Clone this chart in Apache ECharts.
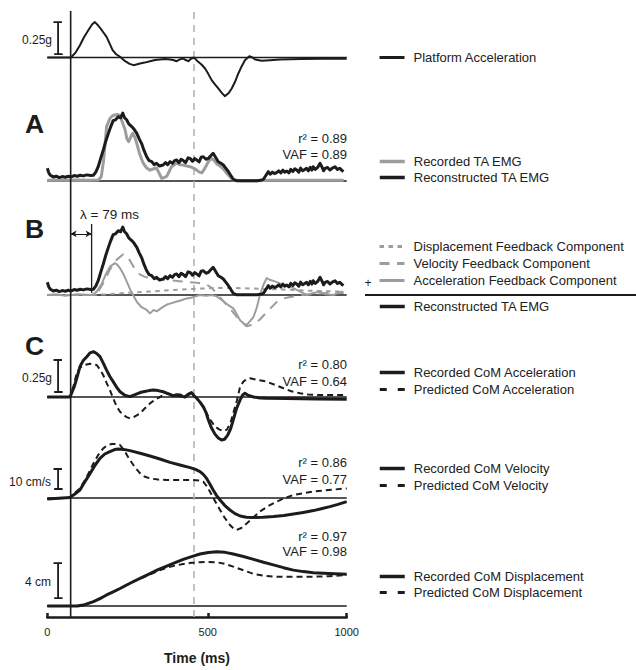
<!DOCTYPE html>
<html>
<head>
<meta charset="utf-8">
<script src="https://cdn.jsdelivr.net/npm/echarts@6/dist/echarts.min.js"></script>
<style>html,body{margin:0;padding:0;background:#fff}#c{width:636px;height:670px}</style>
</head>
<body>
<div id="c"></div>
<script>
// ---------- DATA (time in ms, values in panel units) ----------
const tickPositions = [0, 536, 1000];
const tickLabels = ['0', '500', '1000'];
const onsetTime = 78;
const lambdaTime = 148;
const markerTime = 490;

// Platform acceleration (g)
const platformAcc = [[0,0],[79,0],[95,0.04],[109,0.096],[123,0.16],[137,0.213],[150,0.26],[159,0.276],[170,0.25],[182,0.213],[198,0.161],[208,0.11],[218,0.057],[230,0.025],[243,0.005],[260,-0.029],[275,-0.05],[288,-0.06],[310,-0.047],[325,-0.04],[343,-0.029],[360,-0.02],[376,-0.016],[393,-0.012],[410,-0.016],[420,-0.02],[432,-0.029],[443,-0.015],[454,-0.008],[462,-0.02],[471,-0.029],[480,-0.01],[490,0],[504,-0.034],[515,-0.055],[527,-0.086],[538,-0.13],[549,-0.177],[560,-0.21],[571,-0.242],[582,-0.275],[593,-0.302],[605,-0.28],[616,-0.242],[627,-0.19],[638,-0.125],[649,-0.07],[660,-0.021],[675,0.01],[685,0.0],[694,-0.016],[716,-0.026],[744,-0.021],[777,-0.016],[850,-0.012],[920,-0.01],[1000,-0.01]];

// TA EMG (normalised units)
const emgReconstructed = [[0,0.187],[5,0.12],[10,0.085],[20,0.06],[30,0.07],[40,0.05],[50,0.065],[60,0.055],[70,0.07],[80,0.06],[90,0.08],[100,0.07],[110,0.085],[120,0.075],[132,0.09],[145,0.08],[154,0.085],[162,0.13],[170,0.21],[178,0.33],[187,0.456],[195,0.58],[204,0.70],[212,0.80],[220,0.887],[228,0.9],[237,0.946],[245,0.93],[252,1.0],[258,0.93],[265,0.9],[272,0.84],[282,0.8],[290,0.76],[299,0.70],[307,0.62],[315,0.55],[323,0.45],[332,0.357],[340,0.3],[349,0.284],[357,0.24],[365,0.26],[375,0.22],[387,0.235],[395,0.27],[402,0.24],[410,0.284],[418,0.26],[425,0.3],[432,0.31],[440,0.27],[447,0.32],[454,0.3],[462,0.27],[470,0.34],[477,0.333],[485,0.29],[492,0.33],[499,0.31],[507,0.28],[514,0.35],[521,0.357],[530,0.32],[538,0.333],[546,0.37],[554,0.407],[562,0.35],[571,0.284],[580,0.26],[588,0.235],[596,0.19],[605,0.137],[613,0.08],[621,0.025],[632,0.005],[644,0.005],[660,0.005],[675,0.005],[688,0.005],[700,0.005],[712,0.01],[722,0.025],[730,0.08],[738,0.137],[745,0.1],[752,0.13],[759,0.11],[766,0.122],[773,0.15],[780,0.12],[787,0.16],[793,0.13],[800,0.147],[807,0.12],[813,0.17],[820,0.14],[827,0.18],[833,0.162],[840,0.13],[846,0.19],[853,0.15],[860,0.17],[866,0.187],[872,0.15],[878,0.2],[884,0.16],[888,0.21],[895,0.17],[903,0.2],[911,0.26],[918,0.2],[923,0.15],[928,0.187],[936,0.2],[944,0.162],[952,0.19],[961,0.21],[969,0.17],[977,0.187],[983,0.16],[989,0.137]];
const emgRecorded = [[0,0.01],[30,0.015],[60,0.01],[100,0.015],[140,0.01],[170,0.015],[180,0.06],[188,0.3],[198,0.8],[209,0.92],[218,0.96],[226,0.97],[235,0.98],[243,0.96],[252,0.85],[260,0.75],[266,0.62],[272,0.58],[278,0.64],[285,0.7],[292,0.65],[299,0.55],[307,0.42],[315,0.32],[321,0.26],[332,0.19],[343,0.16],[355,0.18],[365,0.19],[373,0.12],[382,0.04],[390,0.05],[399,0.07],[407,0.14],[415,0.21],[424,0.24],[432,0.26],[443,0.24],[454,0.235],[466,0.22],[477,0.21],[488,0.19],[499,0.16],[508,0.13],[516,0.12],[524,0.17],[532,0.235],[540,0.3],[549,0.33],[558,0.3],[566,0.25],[577,0.22],[588,0.18],[600,0.11],[612,0.05],[622,0.015],[650,0.005],[700,0.005],[750,0.01],[800,0.01],[900,0.01],[990,0.01]];

// Feedback components (normalised EMG units)
const dispComponent = [[0,0],[150,0],[200,0.01],[260,0.03],[343,0.05],[420,0.075],[510,0.095],[580,0.105],[650,0.1],[720,0.09],[790,0.08],[860,0.065],[930,0.055],[990,0.05]];
const velComponent = [[0,0],[150,0],[170,0.05],[190,0.2],[210,0.38],[232,0.52],[254,0.6],[270,0.55],[290,0.4],[310,0.3],[330,0.26],[360,0.24],[400,0.22],[450,0.2],[500,0.18],[530,0.16],[550,0.1],[580,-0.05],[610,-0.2],[640,-0.36],[665,-0.46],[685,-0.44],[710,-0.36],[740,-0.22],[767,-0.1],[790,-0.05],[811,-0.03],[850,0.0],[900,0.02],[950,0.03],[990,0.03]];
const accComponent = [[0,0],[30,0.01],[60,-0.01],[100,0.01],[150,0],[165,0.05],[180,0.15],[195,0.3],[210,0.42],[220,0.45],[226,0.47],[235,0.44],[245,0.38],[255,0.3],[265,0.2],[280,0.05],[299,-0.1],[315,-0.18],[332,-0.22],[343,-0.27],[355,-0.22],[365,-0.24],[378,-0.2],[388,-0.17],[400,-0.14],[415,-0.12],[430,-0.1],[445,-0.08],[466,-0.05],[480,-0.04],[495,-0.02],[510,0],[530,-0.01],[550,0],[566,-0.02],[585,-0.08],[605,-0.15],[622,-0.2],[635,-0.3],[644,-0.37],[656,-0.42],[666,-0.44],[678,-0.38],[689,-0.32],[700,-0.18],[710,0],[722,0.15],[733,0.25],[745,0.22],[760,0.2],[777,0.17],[800,0.14],[822,0.1],[845,0.05],[866,0],[890,0.03],[911,0.05],[930,0.01],[956,0],[975,0.04],[989,0.05]];

// CoM acceleration (g)
const comAccRecorded = [[0,0],[76,0],[90,0.08],[100,0.16],[109,0.237],[120,0.285],[132,0.315],[143,0.345],[154,0.354],[165,0.34],[176,0.315],[187,0.265],[198,0.21],[209,0.16],[220,0.12],[232,0.075],[243,0.041],[258,0.015],[276,0.003],[295,0.02],[310,0.035],[321,0.041],[340,0.05],[354,0.055],[370,0.05],[387,0.041],[405,0.025],[421,0.008],[432,0.018],[443,0.016],[452,0.005],[460,0],[470,0.02],[482,0.034],[490,0.01],[499,-0.01],[510,-0.04],[521,-0.076],[530,-0.12],[538,-0.18],[548,-0.24],[560,-0.29],[571,-0.32],[582,-0.336],[592,-0.33],[602,-0.3],[612,-0.25],[621,-0.18],[632,-0.09],[644,-0.023],[652,0.015],[660,0.029],[672,0.012],[689,0],[710,-0.008],[733,-0.01],[800,-0.012],[900,-0.015],[1000,-0.018]];
const comAccPredicted = [[0,0],[76,0],[88,0.09],[98,0.185],[110,0.23],[125,0.25],[143,0.26],[154,0.255],[165,0.25],[176,0.215],[187,0.17],[198,0.11],[209,0.055],[220,-0.01],[232,-0.076],[243,-0.115],[254,-0.14],[265,-0.157],[276,-0.167],[290,-0.155],[310,-0.128],[325,-0.09],[343,-0.05],[360,-0.02],[376,0],[400,0.03],[430,0.01],[460,0],[482,0.03],[499,-0.01],[515,-0.06],[530,-0.12],[545,-0.18],[560,-0.23],[575,-0.255],[590,-0.265],[600,-0.255],[612,-0.2],[622,-0.12],[633,-0.03],[644,0.08],[655,0.12],[666,0.14],[677,0.146],[700,0.135],[733,0.12],[760,0.095],[789,0.068],[815,0.045],[844,0.029],[870,0.02],[900,0.016],[950,0.016],[1000,0.016]];

// CoM velocity (cm/s)
const comVelRecorded = [[0,-0.5],[76,0.3],[92,2],[109,4],[125,8],[143,12.3],[160,16.5],[176,19.8],[192,22],[209,23.2],[225,24.2],[238,24.5],[255,24.3],[276,23.7],[310,22.4],[343,21],[376,19.5],[410,17.8],[443,16.5],[477,15.2],[495,14.3],[510,13.2],[521,11.8],[532,9.8],[543,7],[554,4],[565,1.3],[577,-1],[593,-3.8],[610,-6],[627,-7.8],[644,-9],[665,-9.6],[689,-9.7],[720,-9.6],[756,-9.3],[790,-8.7],[822,-8],[855,-7.2],[889,-6.3],[915,-5.4],[944,-4.3],[968,-3.3],[1000,-1.8]];
const comVelPredicted = [[0,-0.5],[76,0.3],[92,2.5],[109,4.8],[130,10],[154,17.3],[170,21.5],[187,24.8],[200,26.3],[215,27],[230,27],[243,26.5],[258,23.5],[276,19],[293,15.3],[310,12.3],[326,10.6],[343,9.8],[370,9.2],[399,9],[440,9],[488,9],[505,8.8],[521,8.2],[532,6],[543,3.2],[560,-1.5],[577,-6],[593,-10],[610,-13.5],[622,-15.3],[632,-16],[648,-15],[666,-12.7],[688,-9.8],[710,-6.8],[738,-4],[766,-1.8],[794,0],[822,1.5],[855,2.4],[889,3.2],[940,4],[1000,4.8]];

// CoM displacement (cm)
const comDispRecorded = [[0,0],[100,0],[125,0.15],[154,0.5],[176,0.85],[198,1.26],[220,1.62],[243,2.0],[265,2.4],[288,2.8],[315,3.25],[343,3.7],[370,4.15],[399,4.57],[427,4.96],[454,5.33],[482,5.65],[510,5.94],[538,6.12],[566,6.2],[594,6.13],[621,5.94],[655,5.65],[689,5.33],[722,5.0],[755,4.7],[789,4.38],[822,4.1],[855,3.93],[889,3.8],[940,3.72],[1000,3.64]];
const comDispPredicted = [[0,0],[100,0],[125,0.15],[154,0.5],[198,1.26],[243,2.0],[288,2.8],[315,3.2],[343,3.6],[370,4.0],[399,4.38],[427,4.62],[454,4.8],[482,4.93],[510,5.0],[538,5.03],[566,5.0],[594,4.8],[621,4.5],[655,4.08],[689,3.66],[722,3.47],[756,3.35],[790,3.33],[822,3.35],[889,3.35],[940,3.4],[1000,3.54]];

// Scale bars [low, high] in panel units, and fit statistics
const scaleBarTime = 36;
const scalePlatform = [0.026, 0.276];
const scaleComAcc = [0.039, 0.289];
const scaleComVel = [4.5, 14.5];
const scaleComDisp = [0.91, 4.91];
const fitEMG = ['0.89', '0.89'];
const fitAcc = ['0.80', '0.64'];
const fitVel = ['0.86', '0.77'];
const fitDisp = ['0.97', '0.98'];

// ---------- CHART ----------
const FONT = '"Liberation Sans", Arial, Helvetica, sans-serif';
const BLACK = '#1c1c1c';
const GREY = '#9d9d9d';
const LEFT = 47.3, WIDTH = 299.4;

const panels = [
  {top: 5, height: 96, min: -0.34, max: 0.41},
  {top: 106.2, height: 88.4, min: -0.2, max: 1.1},
  {top: 220.2, height: 115.6, min: -0.6, max: 1.1},
  {top: 345.8, height: 102.4, min: -0.4, max: 0.4},
  {top: 438, height: 96, min: -18, max: 30},
  {top: 536, height: 91.875, min: -2.5, max: 8},
  {top: 11, height: 617, min: 0, max: 1}
];

const grid = panels.map(p => ({left: LEFT, width: WIDTH, top: p.top, height: p.height}));
const xAxis = panels.map((p, i) => {
  const last = i === panels.length - 1;
  return {
    gridIndex: i, type: 'value', min: 0, max: 1000, show: last,
    splitLine: {show: false},
    axisLine: {show: last, onZero: false, lineStyle: {color: BLACK, width: 2.5}},
    axisTick: {show: last, inside: true, length: 4, customValues: tickPositions, lineStyle: {color: BLACK, width: 2.5}},
    axisLabel: {show: last, customValues: tickPositions, margin: 9, fontSize: 11, color: BLACK, fontFamily: FONT,
      formatter: v => tickLabels[tickPositions.indexOf(v)] || ''},
    name: last ? 'Time (ms)' : '', nameLocation: 'middle', nameGap: 34,
    nameTextStyle: {fontSize: 14, fontWeight: 'bold', color: BLACK, fontFamily: FONT}
  };
});
const yAxis = panels.map((p, i) => ({gridIndex: i, type: 'value', min: p.min, max: p.max, show: false, splitLine: {show: false}}));

function ln(name, data, gi, color, width, type, z) {
  return {type: 'line', name: name, data: data, xAxisIndex: gi, yAxisIndex: gi, symbol: 'none',
    lineStyle: {color: color, width: width, type: type || 'solid', cap: 'butt', join: 'round'},
    itemStyle: {color: color}, z: z || 2, silent: true, animation: false};
}
function baseline(gi) { return ln(undefined, [[0, 0], [1000, 0]], gi, BLACK, 1.3, 'solid', 1); }
function scaleBar(gi, lh, halfW) {
  const t = scaleBarTime;
  return ln(undefined, [[t - halfW, lh[0]], [t + halfW, lh[0]], [t, lh[0]], [t, lh[1]], [t - halfW, lh[1]], [t + halfW, lh[1]]], gi, BLACK, 1.8, 'solid', 3);
}

const series = [
  baseline(0), baseline(1), baseline(2), baseline(3), baseline(4), baseline(5),
  ln('Platform Acceleration', platformAcc, 0, BLACK, 2, 'solid', 4),
  ln('Recorded TA EMG', emgRecorded, 1, GREY, 3, 'solid', 3),
  ln('Reconstructed TA EMG', emgReconstructed, 1, BLACK, 3, 'solid', 4),
  ln('Displacement Feedback Component', dispComponent, 2, GREY, 2, [4.5, 4.5], 3),
  ln('Velocity Feedback Component', velComponent, 2, GREY, 2, [10, 7.5], 3),
  ln('Acceleration Feedback Component', accComponent, 2, GREY, 2, 'solid', 3),
  ln('Reconstructed TA EMG', emgReconstructed, 2, BLACK, 3, 'solid', 4),
  ln('Recorded CoM Acceleration', comAccRecorded, 3, BLACK, 3, 'solid', 4),
  ln('Predicted CoM Acceleration', comAccPredicted, 3, BLACK, 2, [6, 4], 3),
  ln('Recorded CoM Velocity', comVelRecorded, 4, BLACK, 3, 'solid', 4),
  ln('Predicted CoM Velocity', comVelPredicted, 4, BLACK, 2, [6, 4], 3),
  ln('Recorded CoM Displacement', comDispRecorded, 5, BLACK, 3, 'solid', 4),
  ln('Predicted CoM Displacement', comDispPredicted, 5, BLACK, 2, [6, 4], 3),
  scaleBar(0, scalePlatform, 13), scaleBar(3, scaleComAcc, 13), scaleBar(4, scaleComVel, 13), scaleBar(5, scaleComDisp, 13),
  // onset and marker verticals
  ln(undefined, [[onsetTime, 0], [onsetTime, 1]], 6, BLACK, 1.6, 'solid', 5),
  ln(undefined, [[markerTime, 0], [markerTime, 1]], 6, '#b3b3b3', 1.6, [7, 6], 1),
  // lambda delay marker
  Object.assign(ln(undefined, [[lambdaTime, 0.03], [lambdaTime, 1.044]], 2, BLACK, 1.3, 'solid', 5), {
    markLine: {silent: true, symbol: ['arrow', 'arrow'], symbolSize: [5, 6], label: {show: false},
      lineStyle: {color: BLACK, width: 1, type: 'solid'},
      data: [[{coord: [onsetTime, 0.9]}, {coord: [lambdaTime, 0.9]}]]}
  })
];

const legendBase = {orient: 'vertical', left: 378, padding: 0, itemWidth: 25, itemHeight: 14,
  selectedMode: false,
  itemStyle: {color: 'rgba(0,0,0,0)', borderWidth: 0},
  textStyle: {fontSize: 13, color: '#222', fontFamily: FONT, padding: [0, 0, 0, 4]}};
const thick = {width: 3.5};
const greyDash = {width: 3, type: [4.5, 4.5]};
const greyLong = {width: 3, type: [10, 7.5]};
const greySolid = {width: 3};
const predDash = {width: 3, type: [7, 11]};
function it(name, ls) { return {name: name, lineStyle: ls}; }
const legend = [
  Object.assign({}, legendBase, {top: 51, data: [it('Platform Acceleration', {width: 3})]}),
  Object.assign({}, legendBase, {top: 155, itemGap: 3, data: [it('Recorded TA EMG', thick), it('Reconstructed TA EMG', thick)]}),
  Object.assign({}, legendBase, {top: 240, itemGap: 4, data: [it('Displacement Feedback Component', greyDash), it('Velocity Feedback Component', greyLong), it('Acceleration Feedback Component', greySolid)]}),
  Object.assign({}, legendBase, {top: 300, data: [it('Reconstructed TA EMG', thick)]}),
  Object.assign({}, legendBase, {top: 366, itemGap: 4, data: [it('Recorded CoM Acceleration', thick), it('Predicted CoM Acceleration', predDash)]}),
  Object.assign({}, legendBase, {top: 462, itemGap: 4, data: [it('Recorded CoM Velocity', thick), it('Predicted CoM Velocity', predDash)]}),
  Object.assign({}, legendBase, {top: 570, itemGap: 3, data: [it('Recorded CoM Displacement', thick), it('Predicted CoM Displacement', predDash)]})
];

function txt(x, y, s, size, align, weight) {
  return {type: 'text', x: x, y: y, silent: true,
    style: {text: s, fontSize: size, fontFamily: FONT, fill: BLACK, fontWeight: weight || 'normal', textAlign: align || 'left', textVerticalAlign: 'middle'}};
}
const RX = 347;
const graphic = [
  txt(52, 40, '0.25g', 12, 'right'),
  txt(52, 378, '0.25g', 12, 'right'),
  txt(51, 482, '10 cm/s', 12, 'right'),
  txt(51, 582, '4 cm', 12, 'right'),
  txt(25, 124, 'A', 26.5, 'left', 'bold'),
  txt(25, 229, 'B', 26.5, 'left', 'bold'),
  txt(25, 346, 'C', 26.5, 'left', 'bold'),
  txt(80, 214, 'λ = 79 ms', 13.5, 'left'),
  txt(RX, 138, 'r² = ' + fitEMG[0], 13, 'right'), txt(RX, 154, 'VAF = ' + fitEMG[1], 13, 'right'),
  txt(RX, 364, 'r² = ' + fitAcc[0], 13, 'right'), txt(RX, 381, 'VAF = ' + fitAcc[1], 13, 'right'),
  txt(RX, 462, 'r² = ' + fitVel[0], 13, 'right'), txt(RX, 479, 'VAF = ' + fitVel[1], 13, 'right'),
  txt(RX, 536, 'r² = ' + fitDisp[0], 13, 'right'), txt(RX, 551, 'VAF = ' + fitDisp[1], 13, 'right'),
  txt(368, 283, '+', 12, 'center'),
  {type: 'line', silent: true, shape: {x1: 365, y1: 295, x2: 636, y2: 295}, style: {stroke: BLACK, lineWidth: 2}}
];

const chart = echarts.init(document.getElementById('c'), null, {renderer: 'svg'});
chart.setOption({animation: false, backgroundColor: '#fff', grid, xAxis, yAxis, series, legend, graphic});
</script>
</body>
</html>
